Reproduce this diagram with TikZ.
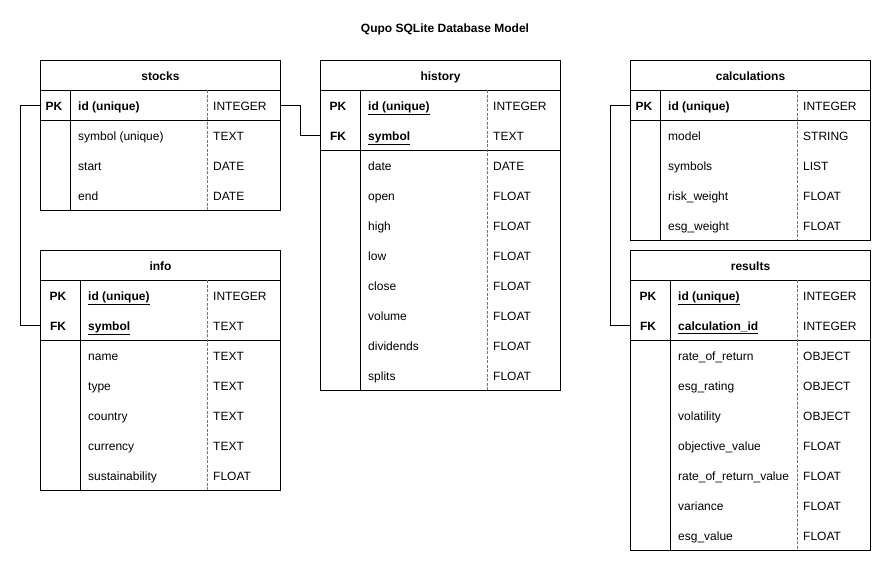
\documentclass[tikz,border=0pt]{standalone}
\usepackage{fontspec}
\setmainfont{Liberation Sans}
\usetikzlibrary{positioning}

\begin{document}
\begin{tikzpicture}[x=1pt, y=-1pt]
    \tikzset{
        every node/.style={inner sep=0pt, text height=10.4pt, text depth=0pt,
            font=\fontsize{12}{14}\selectfont},
        title/.style={font=\fontsize{12}{14}\selectfont\bfseries},
        tbl/.style={draw, line width=1pt},
        head/.style={draw, line width=1pt, minimum width=240pt, minimum height=30pt,
            anchor=north west, font=\fontsize{12}{14}\selectfont\bfseries},
        row/.style={minimum width=240pt, minimum height=30pt, anchor=north west},
        key/.style={font=\fontsize{12}{14}\selectfont\bfseries},
        kfld/.style={anchor=west, font=\fontsize{12}{14}\selectfont\bfseries},
        fld/.style={anchor=west},
        sep/.style={draw=black!55, line width=0.8pt, dash pattern=on 3pt off 1.5pt},
        link/.style={draw, line width=1pt}
    }
    \useasboundingbox (0,0) rectangle (890,570);

    \node[title] (title) at (445,27) {Qupo SQLite Database Model};

    % stocks
    \draw[tbl] (40,60) rectangle (280,210);
    \node[head] (stocks) at (40,60) {stocks};
    \draw[tbl] (40,120) -- (280,120) (70,90) -- (70,210);
    \draw[sep] (207,90) -- (207,210);
    \node[row] (stocks-id) at (40,90) {};
    \node[key] (stocks-pk) at (54,105) {PK};
    \node[kfld] (stocks-idf) at (78,105) {id (unique)};
    \node[fld] (stocks-idt) at (213,105) {INTEGER};
    \foreach \f/\t [count=\i] in {symbol (unique)/TEXT, start/DATE, end/DATE} {
        \node[fld] (stocks-f\i) at (78,105+30*\i) {\f};
        \node[fld] (stocks-t\i) at (213,105+30*\i) {\t};
    }

    % info
    \draw[tbl] (40,250) rectangle (280,490);
    \node[head] (info) at (40,250) {info};
    \draw[tbl] (40,340) -- (280,340) (80,280) -- (80,490);
    \draw[sep] (207,280) -- (207,490);
    \node[row] (info-id) at (40,280) {};
    \node[row] (info-sym) at (40,310) {};
    \node[key] (info-pk) at (58,295) {PK};
    \node[key] (info-fk) at (58,325) {FK};
    \node[kfld] (info-idf) at (88,295) {\underline{id (unique)}};
    \node[kfld] (info-symf) at (88,325) {\underline{symbol}};
    \node[fld] (info-idt) at (213,295) {INTEGER};
    \node[fld] (info-symt) at (213,325) {TEXT};
    \foreach \f/\t [count=\i] in {name/TEXT, type/TEXT, country/TEXT, currency/TEXT, sustainability/FLOAT} {
        \node[fld] (info-f\i) at (88,325+30*\i) {\f};
        \node[fld] (info-t\i) at (213,325+30*\i) {\t};
    }

    % history
    \draw[tbl] (320,60) rectangle (560,390);
    \node[head] (history) at (320,60) {history};
    \draw[tbl] (320,150) -- (560,150) (360,90) -- (360,390);
    \draw[sep] (487,90) -- (487,390);
    \node[row] (history-id) at (320,90) {};
    \node[row] (history-sym) at (320,120) {};
    \node[key] (history-pk) at (338,105) {PK};
    \node[key] (history-fk) at (338,135) {FK};
    \node[kfld] (history-idf) at (368,105) {\underline{id (unique)}};
    \node[kfld] (history-symf) at (368,135) {\underline{symbol}};
    \node[fld] (history-idt) at (493,105) {INTEGER};
    \node[fld] (history-symt) at (493,135) {TEXT};
    \foreach \f/\t [count=\i] in {date/DATE, open/FLOAT, high/FLOAT, low/FLOAT, close/FLOAT,
            volume/FLOAT, dividends/FLOAT, splits/FLOAT} {
        \node[fld] (history-f\i) at (368,135+30*\i) {\f};
        \node[fld] (history-t\i) at (493,135+30*\i) {\t};
    }

    % calculations
    \draw[tbl] (630,60) rectangle (870,240);
    \node[head] (calculations) at (630,60) {calculations};
    \draw[tbl] (630,120) -- (870,120) (660,90) -- (660,240);
    \draw[sep] (797,90) -- (797,240);
    \node[row] (calculations-id) at (630,90) {};
    \node[key] (calculations-pk) at (644,105) {PK};
    \node[kfld] (calculations-idf) at (668,105) {id (unique)};
    \node[fld] (calculations-idt) at (803,105) {INTEGER};
    \foreach \f/\t [count=\i] in {model/STRING, symbols/LIST, risk\_weight/FLOAT, esg\_weight/FLOAT} {
        \node[fld] (calculations-f\i) at (668,105+30*\i) {\f};
        \node[fld] (calculations-t\i) at (803,105+30*\i) {\t};
    }

    % results
    \draw[tbl] (630,250) rectangle (870,550);
    \node[head] (results) at (630,250) {results};
    \draw[tbl] (630,340) -- (870,340) (670,280) -- (670,550);
    \draw[sep] (797,280) -- (797,550);
    \node[row] (results-id) at (630,280) {};
    \node[row] (results-cid) at (630,310) {};
    \node[key] (results-pk) at (648,295) {PK};
    \node[key] (results-fk) at (648,325) {FK};
    \node[kfld] (results-idf) at (678,295) {\underline{id (unique)}};
    \node[kfld] (results-cidf) at (678,325) {\underline{calculation\_id}};
    \node[fld] (results-idt) at (803,295) {INTEGER};
    \node[fld] (results-cidt) at (803,325) {INTEGER};
    \foreach \f/\t [count=\i] in {rate\_of\_return/OBJECT, esg\_rating/OBJECT, volatility/OBJECT,
            objective\_value/FLOAT, rate\_of\_return\_value/FLOAT, variance/FLOAT, esg\_value/FLOAT} {
        \node[fld] (results-f\i) at (678,325+30*\i) {\f};
        \node[fld] (results-t\i) at (803,325+30*\i) {\t};
    }

    % relations
    \draw[link] (stocks-id.west) -- ++(-20,0) |- (info-sym.west);
    \draw[link] (stocks-id.east) -- ++(20,0) |- (history-sym.west);
    \draw[link] (calculations-id.west) -- ++(-20,0) |- (results-cid.west);
\end{tikzpicture}
\end{document}
